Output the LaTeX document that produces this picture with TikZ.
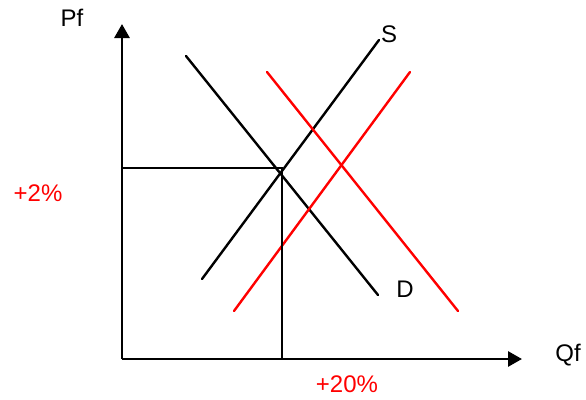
\documentclass[tikz,border=0pt]{standalone}
\usepackage{fontspec}
\setmainfont{Liberation Sans}
\usetikzlibrary{arrows.meta,positioning}
\definecolor{sdred}{RGB}{255,0,0}
\tikzset{
  saxis/.style={-{Triangle[length=14pt,width=15pt]}, line width=2.8pt, black},
  scurve/.style={line width=2.4pt, line cap=round},
  slbl/.style={font=\fontsize{24}{28}\selectfont, inner sep=0pt},
}
\begin{document}
\begin{tikzpicture}[x=1pt,y=-1pt]
        \useasboundingbox (0,0) rectangle (586,399);
        % axes
        \coordinate (o) at (122,359);
        \coordinate (ytop) at (122,24);
        \coordinate (xend) at (522,359);
        \draw[saxis](o)--(ytop);\draw[saxis](o)--(xend);
        \node[slbl](pf) at (72,18){Pf};
        \node[slbl](qf) at (568,355){Qf};
        % original curves
        \coordinate (d1) at (186,56);\coordinate (d2) at (378,295);
        \coordinate (s1) at (202,279);\coordinate (s2) at (379,40);
        \draw[scurve](d1)--(d2);\draw[scurve](s1)--(s2);
        \node[slbl](slab) at (389,34){S};
        \node[slbl](dlab) at (405,289){D};
        % shifted curves
        \coordinate (rd1) at (267,72);\coordinate (rd2) at (458,311);
        \coordinate (rs1) at (234,311);\coordinate (rs2) at (410,72);
        \draw[scurve,sdred](rd1)--(rd2);\draw[scurve,sdred](rs1)--(rs2);
        % equilibrium
        \coordinate (eq) at (282,168);
        \draw[line width=2.4pt](eq-|o)--(eq)--(eq|-o);
        \node[slbl,sdred](dp) at (38,193){+2\%};
        \node[slbl,sdred](dq) at (347,384){+20\%};
    \end{tikzpicture}
\end{document}
